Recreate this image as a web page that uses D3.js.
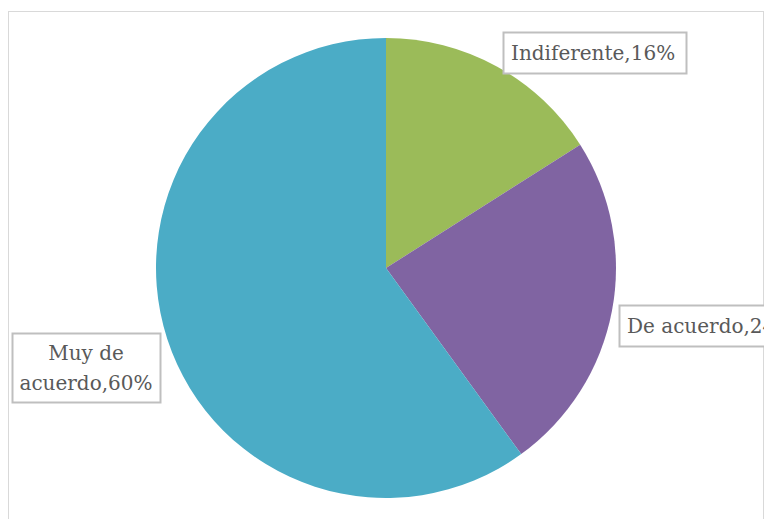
<!DOCTYPE html>
<html>
<head>
<meta charset="utf-8">
<script src="https://cdn.jsdelivr.net/npm/d3@7"></script>
<style>
  body { margin: 0; background: #fff; }
  svg { display: block; }
</style>
</head>
<body>
<div id="chart"></div>
<script>
// data
const categories = ["Indiferente", "De acuerdo", "Muy de acuerdo"];
const values = [16, 24, 60];
const colors = ["#9BBB59", "#8064A2", "#4BACC6"];

const width = 764, height = 519;
const cx = 386, cy = 268, radius = 230;

const svg = d3.select("#chart")
  .append("svg")
    .attr("width", width)
    .attr("height", height);

// chart area border
svg.append("rect")
  .attr("x", 8.5)
  .attr("y", 11.5)
  .attr("width", 755)
  .attr("height", 520)
  .attr("fill", "none")
  .attr("stroke", "#d9d9d9")
  .attr("stroke-width", 1);

const pie = d3.pie().sort(null).value(d => d);
const arcs = pie(values);
const arc = d3.arc().innerRadius(0).outerRadius(radius);

const g = svg.append("g")
  .attr("transform", `translate(${cx},${cy})`);

g.selectAll("path")
  .data(arcs)
  .join("path")
    .attr("d", arc)
    .attr("fill", (d, i) => colors[i]);

// data labels (boxes positioned like the Excel labels)
const labels = [
  { lines: [categories[0] + "," + values[0] + "%"], x: 503, y: 32, w: 183, h: 41 },
  { lines: [categories[1] + "," + values[1] + "%"], x: 619, y: 305, w: 170, h: 41 },
  { lines: ["Muy de", "acuerdo," + values[2] + "%"], x: 12, y: 333, w: 148, h: 69 }
];

const lg = svg.append("g")
  .attr("font-family", "'DejaVu Serif', serif")
  .attr("font-size", 20)
  .attr("fill", "#595959");

labels.forEach(l => {
  lg.append("rect")
    .attr("x", l.x + 0.5)
    .attr("y", l.y + 0.5)
    .attr("width", l.w)
    .attr("height", l.h)
    .attr("fill", "#fff")
    .attr("stroke", "#bfbfbf")
    .attr("stroke-width", 2);
  const n = l.lines.length;
  l.lines.forEach((t, j) => {
    lg.append("text")
      .attr("x", n > 1 ? l.x + l.w / 2 : l.x + 8)
      .attr("y", l.y + l.h / 2 + (j - (n - 1) / 2) * 30)
      .attr("dy", "0.35em")
      .attr("text-anchor", n > 1 ? "middle" : "start")
      .text(t);
  });
});
</script>
</body>
</html>
